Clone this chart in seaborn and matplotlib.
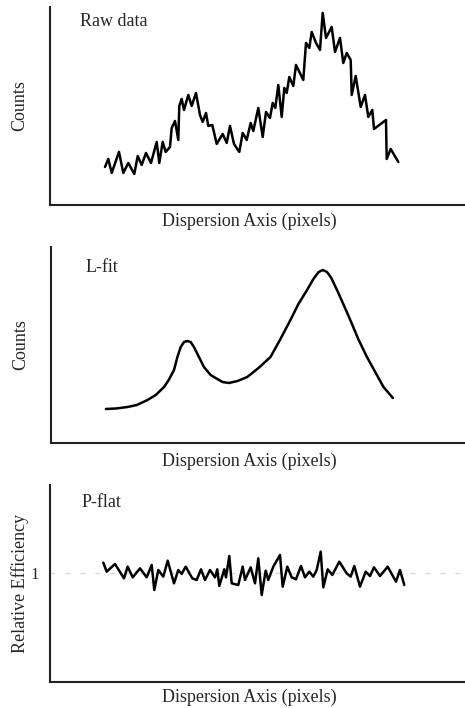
import matplotlib
matplotlib.use("Agg")
import matplotlib.pyplot as plt
import seaborn as sns

# Raw data panel (x along dispersion axis, counts)
raw_x = [105, 108.3, 111.7, 119, 123.3, 128.3, 134.3, 137.7, 141.7, 146, 151, 156.7,
         159.3, 162.7, 165.7, 170, 171.7, 175, 178.3, 179.3, 181.7, 184, 188.3, 191.7,
         196, 200, 202.7, 206, 208.3, 212.3, 216.7, 222.7, 226.7, 230, 234, 239.3,
         242.7, 246.7, 250.7, 253.3, 258.3, 262.7, 266, 270, 272.7, 275.3, 278.3,
         281.7, 284.3, 286.7, 289.3, 293.3, 296, 303.3, 306, 309.3, 311.7, 316, 320,
         322.7, 326, 331.7, 335, 340, 343.3, 346.7, 350.7, 351.7, 355.7, 360.7, 365,
         368.3, 372.3, 374, 386.0, 386.7, 390.7, 398.3]
raw_counts = [38, 46, 32, 53, 32, 42, 31, 49, 40, 52, 42, 63,
              42, 63, 53, 58, 77, 84, 65, 99, 106, 95, 110, 99,
              112, 90, 83, 92, 79, 80, 61, 71, 62, 79, 61, 53,
              72, 65, 82, 74, 97, 68, 93, 87, 102, 97, 120,
              88, 117, 112, 128, 119, 140, 125, 162, 157, 173, 162, 155,
              192, 167, 178, 153, 167, 142, 152, 145, 110, 129, 98, 110,
              88, 95, 76, 85, 46, 56, 43]

# L-fit panel
fit_x = [105, 115, 126.7, 136, 146.7, 155, 163.3, 168, 173.3, 176.7, 180, 183.3, 186.7,
         190, 193.3, 198.3, 203.3, 210, 216.7, 222, 228.3, 237, 246.7, 258, 270, 280,
         290, 298, 306.7, 313, 318.3, 322.5, 326.7, 331, 336.7, 343, 350, 358,
         366.7, 375, 383.3, 392.7]
fit_counts = [34, 34.5, 36, 38, 43, 48, 56, 63, 73, 86, 96, 101, 102,
              101, 96, 86, 76, 68, 64, 61, 60, 62, 66, 75, 86, 104,
              123, 139, 153, 164, 171, 173, 171, 165, 153, 139, 123, 104,
              86, 71, 56, 45]

# P-flat panel
flat_x = [103.3, 106.7, 115.0, 124.0, 127.7, 132.7, 140.0, 146.7, 151.7, 154.3, 158.3,
          163.3, 167.7, 174.0, 178.3, 181.7, 185.7, 192.3, 196.7, 201.0, 205.0, 210.0,
          215.0, 217.3, 219.3, 224.3, 226.0, 229.3, 231.7, 238.3, 242.7, 245.0, 250.7,
          255.0, 258.3, 261.7, 265.7, 268.3, 273.3, 280.0, 282.7, 287.3, 291.7, 296.0,
          301.0, 305.0, 309.3, 313.3, 316.7, 320.7, 323.3, 327.7, 332.3, 339.3, 346.7,
          350.7, 354.3, 360.0, 365.7, 370.0, 374.0, 380.0, 387.7, 396.0, 400.0, 404.3]
flat_eff = [1.060, 1.006, 1.052, 0.966, 1.036, 0.972, 1.026, 0.972, 1.046, 0.896, 1.016,
            0.976, 1.072, 0.936, 1.016, 0.992, 1.036, 0.966, 0.956, 1.020, 0.956, 1.016,
            0.972, 1.020, 0.920, 1.020, 0.972, 1.100, 0.936, 0.926, 1.036, 0.956, 1.032,
            0.936, 1.086, 0.866, 1.012, 0.956, 1.036, 1.106, 0.916, 1.036, 0.972, 0.960,
            1.040, 0.972, 1.006, 0.976, 1.016, 1.126, 0.912, 1.020, 0.986, 1.066, 0.996,
            0.976, 1.040, 0.916, 1.006, 0.980, 1.032, 0.980, 1.036, 0.946, 1.016, 0.926]

sns.set_style("white")
plt.rcParams['font.family'] = ['Liberation Serif', 'DejaVu Serif']

fig = plt.figure(figsize=(4.65, 7.08), dpi=100)

panels = [
    dict(rect=[0.1075, 0.7105, 0.8925, 0.2797], x=raw_x, y=raw_counts, ylim=(0, 198),
         name="Raw data", ylabel="Counts", name_pos=(0.072, 0.924), xl_y=-0.081),
    dict(rect=[0.1097, 0.3743, 0.8903, 0.2768], x=fit_x, y=fit_counts, ylim=(0, 196),
         name="L-fit", ylabel="Counts", name_pos=(0.084, 0.898), xl_y=-0.092),
    dict(rect=[0.1075, 0.0367, 0.8925, 0.2783], x=flat_x, y=flat_eff, ylim=(0.344, 1.526),
         name="P-flat", ylabel="Relative Efficiency", name_pos=(0.077, 0.909), xl_y=-0.076),
]

for i, p in enumerate(panels):
    ax = fig.add_axes(p["rect"])
    if i == 2:
        ax.axhline(1, color="#d8d8d8", lw=1, ls=(0, (3.6, 7.2)), zorder=0)
    sns.lineplot(x=p["x"], y=p["y"], ax=ax, color="black", lw=1.8,
                 sort=False, estimator=None, solid_joinstyle="round")
    ax.set_xlim(50, 465)
    ax.set_ylim(*p["ylim"])
    sns.despine(ax=ax)
    for s in ["left", "bottom"]:
        ax.spines[s].set_linewidth(1.5)
        ax.spines[s].set_color("#222222")
    ax.set_xticks([])
    if i == 2:
        ax.set_yticks([1])
        ax.set_yticklabels(["1"], fontsize=12)
        ax.tick_params(axis="y", length=0, pad=8)
    else:
        ax.set_yticks([])
    ax.set_xlabel("Dispersion Axis (pixels)", fontsize=13, va="center")
    ax.xaxis.set_label_coords(0.48, p["xl_y"])
    ax.set_ylabel(p["ylabel"], fontsize=13, va="center")
    ax.yaxis.set_label_coords(-0.072, 0.5)
    ax.text(p["name_pos"][0], p["name_pos"][1], p["name"], transform=ax.transAxes,
            fontsize=13, va="center", ha="left")

fig.savefig("out.png", dpi=100)
